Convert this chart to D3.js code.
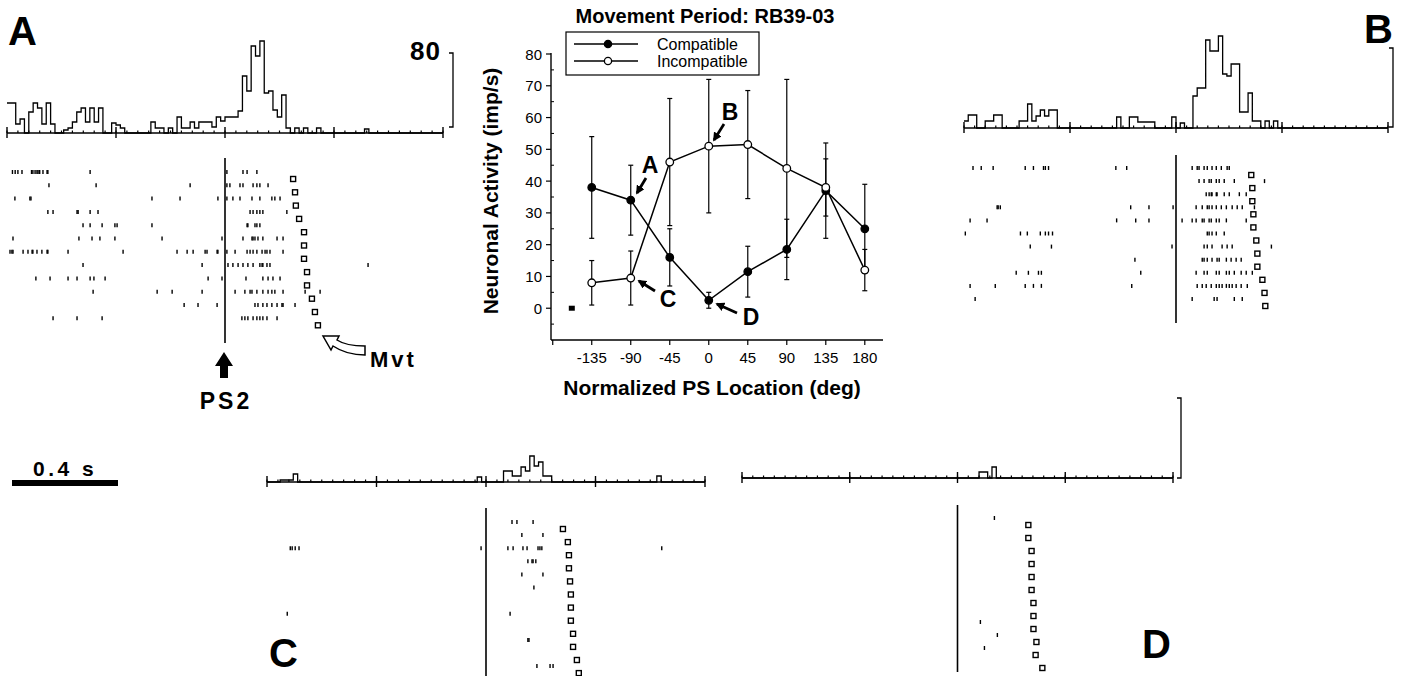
<!DOCTYPE html>
<html>
<head>
<meta charset="utf-8">
<script src="https://cdnjs.cloudflare.com/ajax/libs/d3/7.8.5/d3.min.js"></script>
<style>
  body { margin: 0; background: #fff; }
  svg { display: block; font-family: "Liberation Sans", Arial, Helvetica, sans-serif; }
</style>
</head>
<body>
<svg id="fig" width="1402" height="676"></svg>
<script>
// ---- tuning curve (center) ----
var psLocations = [-135, -90, -45, 0, 45, 90, 135, 180];
var compatMean = [38, 34, 16, 2.5, 11.5, 18.5, 37, 25];
var compatErr  = [16, 11, 9, 2.5, 8, 9.5, 15, 14];
var incompMean = [8, 9.5, 46, 51, 51.5, 44, 38, 12];
var incompErr  = [7, 8.5, 20, 21, 17, 28, 9, 6.5];
var spontLocation = -158, spontRate = 0;
var yTicks = [0, 10, 20, 30, 40, 50, 60, 70, 80];
var xTicks = [-180, -135, -90, -45, 0, 45, 90, 135, 180];
var xTickLabels = ["", "-135", "-90", "-45", "0", "45", "90", "135", "180"];

// ---- histograms: 100 bins of 16 ms, -800..800 ms around PS2 (imp/s) ----
var histA = [30,30,9,14,0,21,30,25,9,30, 9,0,0,3,5,11,21,25,11,25,
             11,25,0,0,10,8,5,0,0,0, 0,0,0,11,5,5,0,5,0,16,
             5,5,11,5,11,11,11,6,16,12, 16,16,16,22,57,42,87,77,92,40,
             42,23,16,38,5,0,5,0,5,0, 0,5,0,0,0,0,0,0,0,0,
             0,0,4,0,0,0,0,0,0,0, 0,0,0,0,0,0,0,0,0,0];
var histB = [7,13,13,0,0,7,7,13,13,0, 0,0,0,7,7,24,7,12,18,12,
             18,18,0,0,0,0,0,0,0,0, 0,0,0,0,0,0,11,0,0,11,
             11,6,6,6,6,0,0,0,0,11, 0,5,0,0,32,40,40,88,77,77,
             92,54,52,64,64,16,16,35,7,7, 0,7,0,7,0,0,0,0,0,0,
             0,0,0,0,0,0,0,0,0,0, 0,0,0,0,0,0,0,0,0,0];
var histC = [0,0,0,2,2,2,8,0,0,0, 0,0,0,0,0,0,0,0,0,0,
             0,0,0,0,0,0,0,0,0,0, 0,0,0,0,0,0,0,0,0,0,
             0,0,0,0,0,0,0,0,5,0, 0,0,0,0,11,11,6,6,15,11,
             26,16,20,6,6,0,0,0,0,0, 0,0,0,0,0,0,0,0,0,0,
             0,0,0,0,0,0,0,0,0,6, 0,0,0,0,0,0,0,0,0,0];
var histD = [0,0,0,0,0,0,0,0,0,0, 0,0,0,0,0,0,0,0,0,0,
             0,0,0,0,0,0,0,0,0,0, 0,0,0,0,0,0,0,0,0,0,
             0,0,0,0,0,0,0,0,0,0, 0,0,0,0,0,6,6,0,11,0,
             0,0,0,0,0,0,0,0,0,0, 0,0,0,0,0,0,0,0,0,0,
             0,0,0,0,0,0,0,0,0,0, 0,0,0,0,0,0,0,0,0,0];

// ---- rasters: spike times (ms from PS2), one array per trial ----
var rasterA = [
  [-780,-770,-760,-745,-710,-705,-697,-690,-686,-680,-668,-653,-650,-495,7,66,81,117],
  [-646,-473,-128,7,18,55,66,103,117,128,158],
  [-771,-716,-712,-268,-165,-26,7,29,55,99,128,172,183,202],
  [-650,-631,-543,-539,-495,-466,92,103,117,128,139,227],
  [-521,-495,-451,-404,-396,-268,81,84,110,117,128],
  [-778,-536,-488,-459,-404,-231,-11,66,99,103,110,121,139,191,213],
  [-789,-782,-778,-741,-723,-708,-705,-690,-672,-653,-650,-576,-374,-176,-139,-117,-73,-66,-29,-26,7,37,81,92,103,117,136,147,154,165,213],
  [-521,-84,11,29,48,66,84,103,128,136,139,154,165,525],
  [-694,-642,-576,-543,-495,-481,-440,-62,-11,77,139,158,176,202],
  [-484,-249,-194,-84,37,73,92,99,117,139,158,172,183,213,294,349],
  [-150,-99,-29,110,121,139,154,172,191,209,213,257],
  [-631,-543,-451,62,73,84,103,117,128,139,154,191]
];
var mvtA = [250,257,260,272,290,290,290,301,301,319,330,341];

var rasterB = [
  [-766,-735,-690,-569,-538,-500,-493,-481,-227,-186,61,80,87,106,118,136,152,171,193,201],
  [87,106,125,133,152,163,182,220,334],
  [114,125,133,136,152,155,182,201,239,265],
  [-675,-671,-663,-171,-102,-11,76,99,118,125,136,152,171,190,212,231,250,296],
  [-777,-713,-224,-152,-102,23,61,76,99,106,125,133,152,163,190,265],
  [-795,-587,-561,-512,-493,-481,-466,118,125,136,152,182],
  [-550,-470,-15,106,118,136,174,193,212,360],
  [-155,99,106,118,136,155,163,190,208,227,246],
  [-603,-557,-519,-508,-133,76,106,118,152,163,190,201,220,246,265,288],
  [-777,-682,-569,-538,-508,-167,80,99,114,133,152,163,174,190,201,212,227,246,269],
  [-758,61,144,155,220,250]
];
var mvtB = [284,288,288,292,292,303,307,307,326,334,337];

var rasterC = [
  [95,113,172],
  [131,208],
  [-715,-708,-697,-683,-18,80,99,135,150,190,197,204,642],
  [153,168,172,182],
  [131,208],
  [175],
  [],
  [-726,88],
  [],
  [153,157],
  [],
  [186,234,245]
];
var mvtC = [281,299,303,303,307,310,310,310,318,318,332,339];

var rasterD = [[137],[],[],[],[],[],[],[],[85],[148],[100],[]];
var mvtD = [263,263,275,275,275,275,282,282,282,293,290,315];

var svg = d3.select("#fig");

// ================= small panels =================
function drawPanel(p) {
  var g = svg.append("g");
  var x = d3.scaleLinear().domain([-800, 800]).range([p.x0, p.x1]);
  var y = d3.scaleLinear().domain([0, 80]).range([p.base, p.base - 80]);

  // time axis
  g.append("line").attr("x1", p.x0).attr("x2", p.x1)
    .attr("y1", p.base).attr("y2", p.base)
    .attr("stroke", "#000").attr("stroke-width", 1.3);
  var minor = d3.range(-800, 801, 40);
  g.selectAll(".mn").data(minor).enter().append("line")
    .attr("x1", function(d) { return x(d); }).attr("x2", function(d) { return x(d); })
    .attr("y1", p.base - 2.5).attr("y2", p.base)
    .attr("stroke", "#000").attr("stroke-width", 1.2);
  g.selectAll(".mj").data([-800, -400, 0, 400, 800]).enter().append("line")
    .attr("x1", function(d) { return x(d); }).attr("x2", function(d) { return x(d); })
    .attr("y1", p.base - 6).attr("y2", p.base + 5)
    .attr("stroke", "#000").attr("stroke-width", 1.4);

  // histogram outline
  var pts = p.hist.map(function(v, i) { return [-800 + i * 16, v]; });
  pts.push([800, p.hist[p.hist.length - 1]]);
  var line = d3.line()
    .x(function(d) { return x(d[0]); })
    .y(function(d) { return y(d[1]); })
    .curve(d3.curveStepAfter);
  g.append("path").attr("d", line(pts))
    .attr("fill", "none").attr("stroke", "#000").attr("stroke-width", 1.3);

  // 80 imp/s bracket
  if (p.bracket) {
    var bx = p.bracket.x, top = y(80), bot = p.base - p.bracket.off;
    g.append("path")
      .attr("d", "M" + (bx - 4) + "," + top + "H" + bx + "V" + bot + "H" + (bx - 4))
      .attr("fill", "none").attr("stroke", "#000").attr("stroke-width", 1.3);
  }

  // raster
  var rowY = function(i) { return p.rowTop + i * p.rowStep; };
  g.append("line").attr("x1", x(0)).attr("x2", x(0))
    .attr("y1", p.lineTop).attr("y2", p.lineBot)
    .attr("stroke", "#000").attr("stroke-width", 1.6);
  p.raster.forEach(function(trial, i) {
    g.selectAll(null).data(trial).enter().append("line")
      .attr("x1", function(d) { return x(d); }).attr("x2", function(d) { return x(d); })
      .attr("y1", rowY(i) - 2).attr("y2", rowY(i) + 2)
      .attr("stroke", "#000").attr("stroke-width", 1.4);
  });
  g.selectAll(".mvt").data(p.mvt).enter().append("rect")
    .attr("x", function(d) { return x(d) - 2.5; })
    .attr("y", function(d, i) { return rowY(i) + 4.5; })
    .attr("width", 5).attr("height", 5)
    .attr("fill", "#fff").attr("stroke", "#000").attr("stroke-width", 1.4);
  return x;
}

var xA = drawPanel({ x0: 7, x1: 443, base: 133, hist: histA, bracket: { x: 453, off: 6 },
  raster: rasterA, mvt: mvtA, rowTop: 172, rowStep: 13.3, lineTop: 158, lineBot: 343 });
drawPanel({ x0: 964, x1: 1388, base: 128, hist: histB, bracket: { x: 1393, off: 1 },
  raster: rasterB, mvt: mvtB, rowTop: 168, rowStep: 13.1, lineTop: 155, lineBot: 323 });
drawPanel({ x0: 267, x1: 705, base: 482, hist: histC, bracket: null,
  raster: rasterC, mvt: mvtC, rowTop: 522, rowStep: 13.1, lineTop: 508, lineBot: 676 });
drawPanel({ x0: 742, x1: 1173, base: 478, hist: histD, bracket: { x: 1181, off: 0 },
  raster: rasterD, mvt: mvtD, rowTop: 518, rowStep: 13, lineTop: 505, lineBot: 672 });

// panel letters
var big = [["A", 8, 45], ["B", 1364, 43], ["C", 269, 667], ["D", 1142, 658]];
svg.selectAll(".big").data(big).enter().append("text")
  .attr("x", function(d) { return d[1]; }).attr("y", function(d) { return d[2]; })
  .attr("font-size", 40).attr("font-weight", "bold").text(function(d) { return d[0]; });

svg.append("text").attr("x", 441).attr("y", 60).attr("text-anchor", "end")
  .attr("font-size", 26).attr("font-weight", "bold").attr("letter-spacing", 1).text("80");

// PS2 arrow
svg.append("path")
  .attr("d", "M224,352 L233,366 L228,366 L228,378 L220,378 L220,366 L215,366 Z")
  .attr("fill", "#000");
svg.append("text").attr("x", 226).attr("y", 409).attr("text-anchor", "middle")
  .attr("font-size", 23).attr("font-weight", "bold").attr("letter-spacing", 3).text("PS2");

// Mvt arrow (hollow, curved)
svg.append("path")
  .attr("d", "M365,346 C352,346 343,344 337,340 L339,336 L323,336 L331,350 L333,346 C342,352 354,355 365,355 Z")
  .attr("fill", "#fff").attr("stroke", "#000").attr("stroke-width", 1.5);
svg.append("text").attr("x", 370).attr("y", 367)
  .attr("font-size", 22).attr("font-weight", "bold").attr("letter-spacing", 3).text("Mvt");

// 0.4 s scale bar
svg.append("rect").attr("x", 12).attr("y", 480)
  .attr("width", xA(400) - xA(0) - 3).attr("height", 6).attr("fill", "#000");
svg.append("text").attr("x", 33).attr("y", 476)
  .attr("font-size", 21).attr("font-weight", "bold").attr("letter-spacing", 3.5).text("0.4 s");

// ================= tuning curve =================
var x = d3.scaleLinear().domain([-182, 201]).range([551, 883]);
var y = d3.scaleLinear().domain([-10, 80]).range([340, 54]);
var c = svg.append("g");

c.append("text").attr("x", 705).attr("y", 23).attr("text-anchor", "middle")
  .attr("font-size", 20).attr("font-weight", "bold").text("Movement Period: RB39-03");

// axes
c.append("line").attr("x1", x(-182)).attr("x2", x(-182)).attr("y1", y(80) - 1).attr("y2", y(-10))
  .attr("stroke", "#000").attr("stroke-width", 1.4);
c.append("line").attr("x1", x(-182)).attr("x2", x(201)).attr("y1", y(-10)).attr("y2", y(-10))
  .attr("stroke", "#000").attr("stroke-width", 1.4);
c.selectAll(".yt").data(yTicks).enter().append("line")
  .attr("x1", x(-182) - 5).attr("x2", x(-182))
  .attr("y1", function(d) { return y(d); }).attr("y2", function(d) { return y(d); })
  .attr("stroke", "#000").attr("stroke-width", 1.2);
c.selectAll(".ym").data(d3.range(-5, 80, 10)).enter().append("line")
  .attr("x1", x(-182)).attr("x2", x(-182) + 3)
  .attr("y1", function(d) { return y(d); }).attr("y2", function(d) { return y(d); })
  .attr("stroke", "#000").attr("stroke-width", 1);
c.selectAll(".yl").data(yTicks).enter().append("text")
  .attr("x", x(-182) - 9).attr("y", function(d) { return y(d) + 5.5; })
  .attr("text-anchor", "end").attr("font-size", 15).text(function(d) { return d; });
c.selectAll(".xt").data(xTicks).enter().append("line")
  .attr("x1", function(d) { return x(d); }).attr("x2", function(d) { return x(d); })
  .attr("y1", y(-10)).attr("y2", y(-10) + 5)
  .attr("stroke", "#000").attr("stroke-width", 1.2);
c.selectAll(".xl").data(xTicks).enter().append("text")
  .attr("x", function(d) { return x(d); }).attr("y", y(-10) + 23)
  .attr("text-anchor", "middle").attr("font-size", 15)
  .text(function(d, i) { return xTickLabels[i]; });

c.append("text").attr("x", 712).attr("y", 395).attr("text-anchor", "middle")
  .attr("font-size", 21).attr("font-weight", "bold").text("Normalized PS Location (deg)");
c.append("text").attr("transform", "translate(498,191) rotate(-90)").attr("text-anchor", "middle")
  .attr("font-size", 21).attr("font-weight", "bold").text("Neuronal Activity (imp/s)");

// spontaneous rate marker
c.append("rect").attr("x", x(spontLocation) - 3).attr("y", y(spontRate) - 2.5)
  .attr("width", 6).attr("height", 5).attr("fill", "#000");

function drawSeries(means, errs) {
  var d = psLocations.map(function(l, i) { return { l: l, m: means[i], e: errs[i] }; });
  var eb = c.append("g");
  d.forEach(function(p) {
    eb.append("line").attr("x1", x(p.l)).attr("x2", x(p.l))
      .attr("y1", y(p.m - p.e)).attr("y2", y(p.m + p.e))
      .attr("stroke", "#000").attr("stroke-width", 1.2);
    [p.m - p.e, p.m + p.e].forEach(function(v) {
      eb.append("line").attr("x1", x(p.l) - 2.5).attr("x2", x(p.l) + 2.5)
        .attr("y1", y(v)).attr("y2", y(v)).attr("stroke", "#000").attr("stroke-width", 1.2);
    });
  });
  c.append("path")
    .attr("d", d3.line().x(function(p) { return x(p.l); }).y(function(p) { return y(p.m); })(d))
    .attr("fill", "none").attr("stroke", "#000").attr("stroke-width", 1.5);
  return d;
}
var dComp = drawSeries(compatMean, compatErr);
var dInc = drawSeries(incompMean, incompErr);
c.selectAll(".pc").data(dComp).enter().append("circle")
  .attr("cx", function(p) { return x(p.l); }).attr("cy", function(p) { return y(p.m); })
  .attr("r", 3.8).attr("fill", "#000").attr("stroke", "#000").attr("stroke-width", 1.2);
c.selectAll(".pi").data(dInc).enter().append("circle")
  .attr("cx", function(p) { return x(p.l); }).attr("cy", function(p) { return y(p.m); })
  .attr("r", 3.8).attr("fill", "#fff").attr("stroke", "#000").attr("stroke-width", 1.3);

// legend
c.append("rect").attr("x", 566).attr("y", 32).attr("width", 193).attr("height", 43)
  .attr("fill", "#fff").attr("stroke", "#000").attr("stroke-width", 1.2);
[["Compatible", "#000", 44], ["Incompatible", "#fff", 61]].forEach(function(l) {
  c.append("line").attr("x1", 574).attr("x2", 638).attr("y1", l[2]).attr("y2", l[2])
    .attr("stroke", "#000").attr("stroke-width", 1.5);
  c.append("circle").attr("cx", 608).attr("cy", l[2]).attr("r", 3.6)
    .attr("fill", l[1]).attr("stroke", "#000").attr("stroke-width", 1.3);
  c.append("text").attr("x", 657).attr("y", l[2] + 5.5).attr("font-size", 16).text(l[0]);
});

// pointer letters A-D
var defs = svg.append("defs");
defs.append("marker").attr("id", "ah").attr("viewBox", "0 0 10 10")
  .attr("refX", 8).attr("refY", 5).attr("markerWidth", 3.2).attr("markerHeight", 3.2)
  .attr("orient", "auto").append("path").attr("d", "M0,0 L10,5 L0,10 Z").attr("fill", "#000");
var pointers = [
  { t: "A", tx: 650, ty: 173, x1: 646, y1: 178, x2: 637, y2: 193 },
  { t: "B", tx: 730, ty: 120, x1: 724, y1: 124, x2: 714, y2: 140 },
  { t: "C", tx: 668, ty: 307, x1: 655, y1: 291, x2: 639, y2: 281 },
  { t: "D", tx: 751, ty: 325, x1: 737, y1: 313, x2: 717, y2: 304 }
];
pointers.forEach(function(p) {
  c.append("line").attr("x1", p.x1).attr("y1", p.y1).attr("x2", p.x2).attr("y2", p.y2)
    .attr("stroke", "#000").attr("stroke-width", 2.8).attr("marker-end", "url(#ah)");
  c.append("text").attr("x", p.tx).attr("y", p.ty).attr("text-anchor", "middle")
    .attr("font-size", 23).attr("font-weight", "bold").text(p.t);
});
</script>
</body>
</html>
